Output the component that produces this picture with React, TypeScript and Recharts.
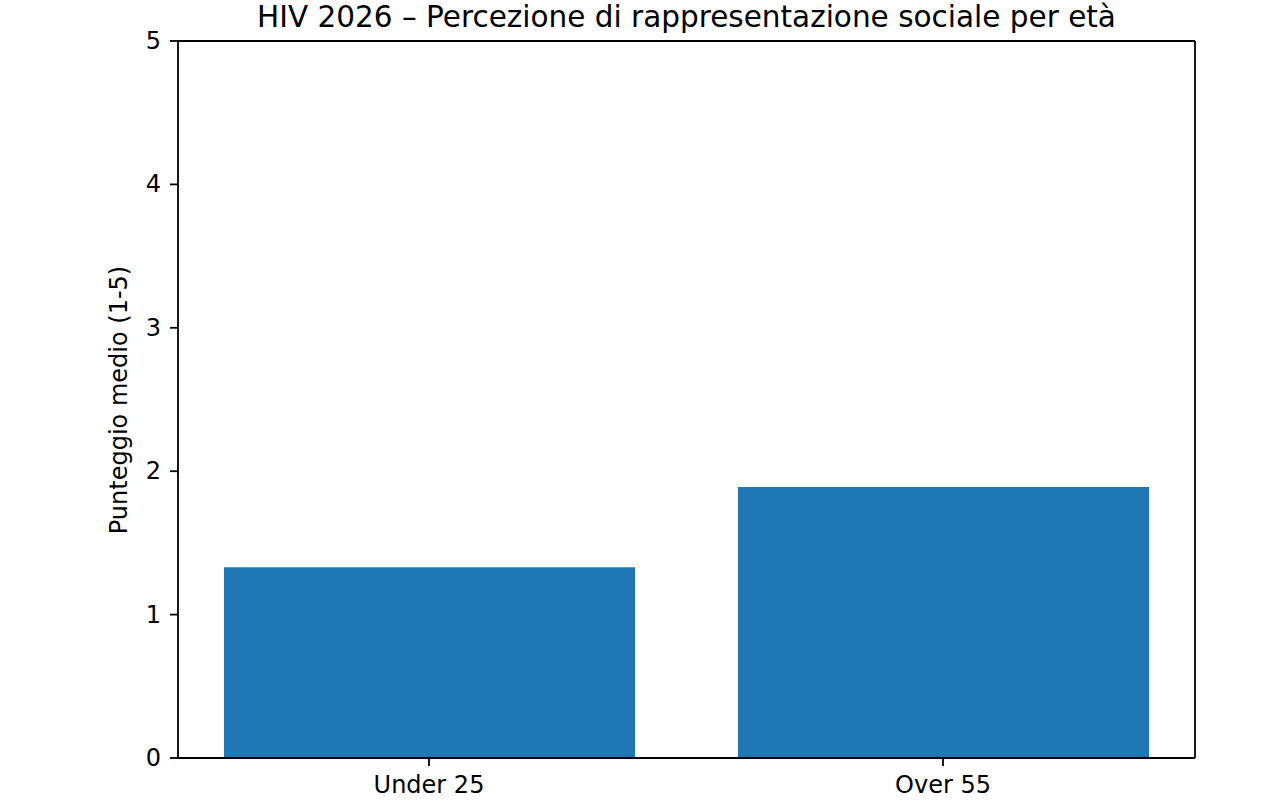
import { Bar, BarChart, CartesianGrid, XAxis, YAxis } from "recharts";

const categories = ["Under 25", "Over 55"];
const meanScores = [1.33, 1.89];
const yTicks = [0, 1, 2, 3, 4, 5];

const chartTitle = "HIV 2026 – Percezione di rappresentazione sociale per età";
const yAxisTitle = "Punteggio medio (1-5)";

const data = categories.map((group, i) => ({ group, score: meanScores[i] }));

const FONT = "DejaVu Sans";
const TICK_FONT = 24;
const BAR_COLOR = "#1f77b4";
const SPINE = { stroke: "#000", strokeWidth: 1.8 };

function renderXTick(props: any) {
  const { x, y, payload } = props;
  return (
    <text x={x} y={y} dy={18} textAnchor="middle" fontFamily={FONT} fontSize={TICK_FONT} fill="#000">
      {payload.value}
    </text>
  );
}

function renderYTick(props: any) {
  const { x, y, payload } = props;
  return (
    <text x={x} y={y} textAnchor="end" dominantBaseline="central" fontFamily={FONT} fontSize={TICK_FONT} fill="#000">
      {payload.value}
    </text>
  );
}

export default function App() {
  return (
    <div style={{ position: "absolute", left: 0, top: 0, width: 1280, height: 800, background: "#fff" }}>
      <BarChart
        width={1280}
        height={800}
        data={data}
        margin={{ top: 41, right: 85, bottom: 0, left: 118 }}
      >
        {/* top and right spines of the matplotlib-style frame */}
        <CartesianGrid
          stroke="#000"
          strokeWidth={1.8}
          horizontalCoordinatesGenerator={({ offset }: any) => [offset.top]}
          verticalCoordinatesGenerator={({ offset }: any) => [offset.left + offset.width]}
        />
        <XAxis
          dataKey="group"
          height={42}
          padding={{ left: -6, right: -5 }}
          axisLine={SPINE}
          tickLine={SPINE}
          tickSize={8}
          tickMargin={9}
          tick={renderXTick}
        />
        <YAxis
          width={60}
          domain={[0, 5]}
          ticks={yTicks}
          axisLine={SPINE}
          tickLine={SPINE}
          tickSize={8}
          tickMargin={9}
          tick={renderYTick}
        />
        <Bar dataKey="score" fill={BAR_COLOR} barSize={411} isAnimationActive={false} />
      </BarChart>
      <svg
        width={1280}
        height={800}
        style={{ position: "absolute", left: 0, top: 0, pointerEvents: "none" }}
      >
        <text x={686.5} y={27} textAnchor="middle" fontFamily={FONT} fontSize={29.5} fill="#000">
          {chartTitle}
        </text>
        <text
          x={127}
          y={400}
          transform="rotate(-90 127 400)"
          textAnchor="middle"
          fontFamily={FONT}
          fontSize={TICK_FONT}
          fill="#000"
        >
          {yAxisTitle}
        </text>
      </svg>
    </div>
  );
}
